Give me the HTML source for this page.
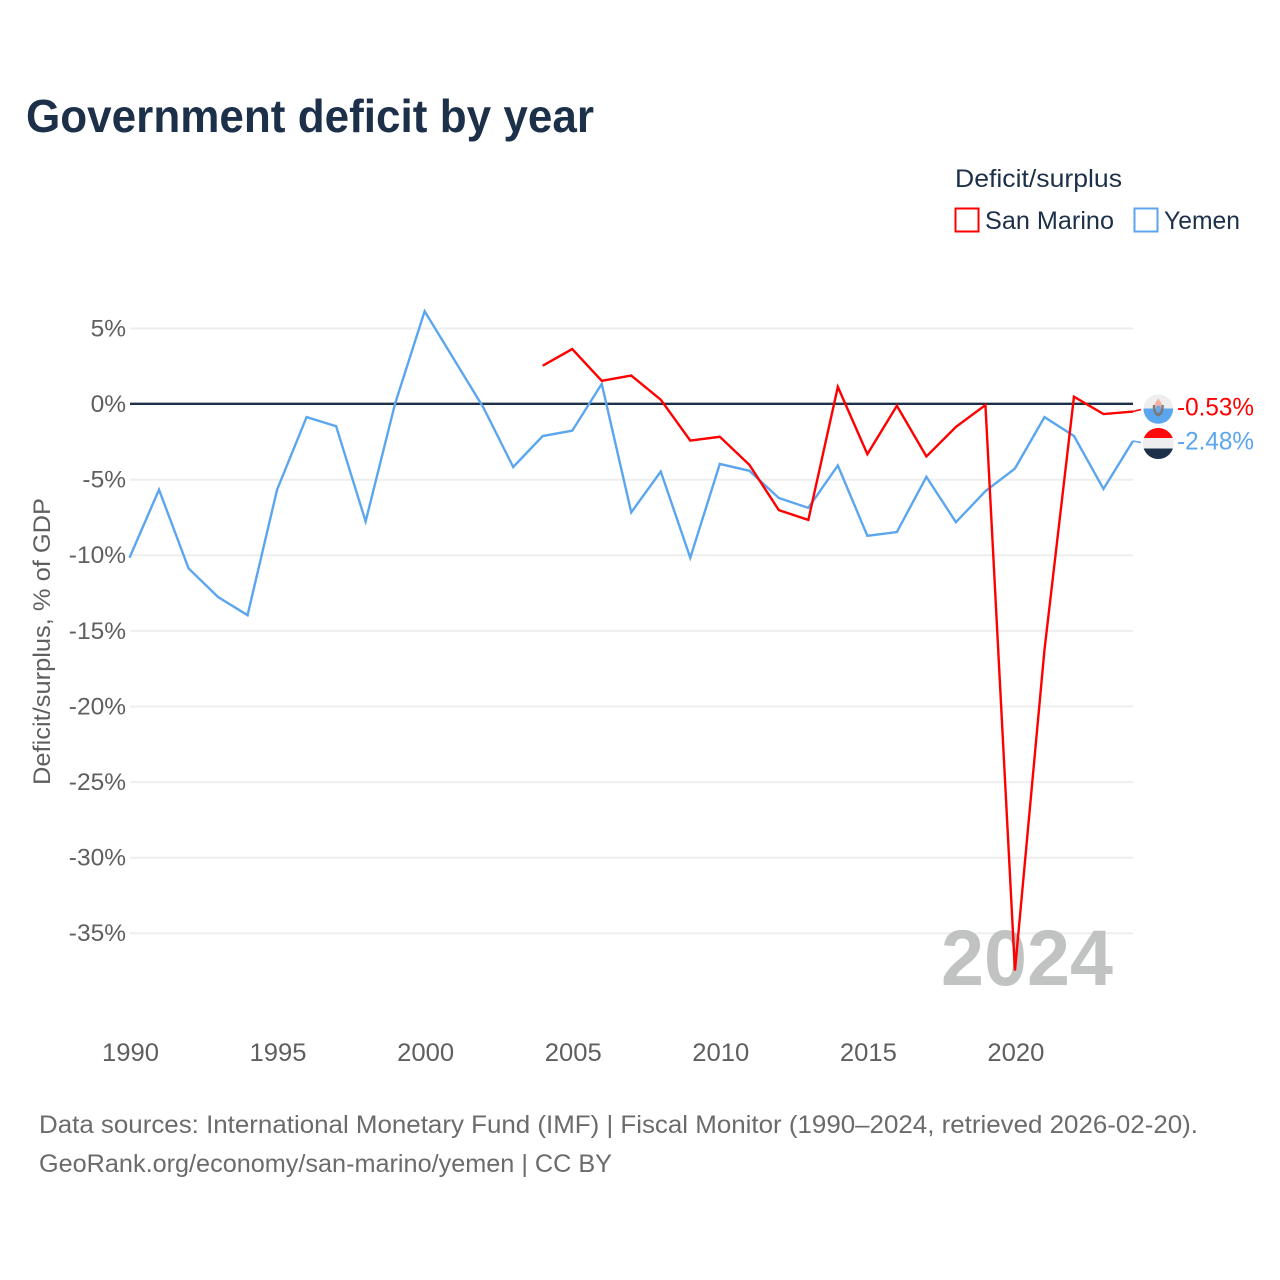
<!DOCTYPE html>
<html lang="en">
<head>
<meta charset="utf-8">
<title>Government deficit by year</title>
<style>
html,body{margin:0;padding:0;background:#fff;width:1280px;height:1280px;overflow:hidden}
svg{display:block}
text{font-family:"Liberation Sans",sans-serif}
</style>
</head>
<body>
<svg id="chart" xmlns="http://www.w3.org/2000/svg" width="1280" height="1280" viewBox="0 0 1280 1280">
  <defs>
    <clipPath id="clip-sm"><circle cx="1158.3" cy="409" r="14.8"/></clipPath>
    <clipPath id="clip-ye"><circle cx="1158.3" cy="443.5" r="15.5"/></clipPath>
  </defs>
  <text x="26" y="132" font-size="46" font-weight="700" fill="#1d3049" textLength="568" lengthAdjust="spacingAndGlyphs">Government deficit by year</text>

  <text x="955" y="187" font-size="25" fill="#1d3049" textLength="167" lengthAdjust="spacingAndGlyphs">Deficit/surplus</text>
  <rect x="955.5" y="208.5" width="23" height="23" fill="#fff" stroke="#ff0000" stroke-width="2"/>
  <text x="985" y="229" font-size="25" fill="#1d3049" textLength="129" lengthAdjust="spacingAndGlyphs">San Marino</text>
  <rect x="1134.5" y="208.5" width="23" height="23" fill="#fff" stroke="#5ba6ee" stroke-width="2"/>
  <text x="1164" y="229" font-size="25" fill="#1d3049" textLength="76" lengthAdjust="spacingAndGlyphs">Yemen</text>

  <g id="grid"></g>
  <g id="y-labels"></g>
  <g id="x-labels"></g>

  <text transform="translate(50,641.5) rotate(-90)" text-anchor="middle" font-size="24.5" fill="#5f5f5f" textLength="287" lengthAdjust="spacingAndGlyphs">Deficit/surplus, % of GDP</text>

  <text id="year-watermark" x="1113" y="985" text-anchor="end" font-size="79" font-weight="700" fill="#c1c3c3" textLength="172" lengthAdjust="spacingAndGlyphs"></text>

  <line id="zero-line" x1="130" x2="1133" stroke="#1d3049" stroke-width="2.3"/>
  <g id="series"></g>

  <g clip-path="url(#clip-sm)">
    <rect x="1143" y="393" width="31" height="16" fill="#eeeeee"/>
    <rect x="1143" y="408.5" width="31" height="17" fill="#5ba6ee"/>
    <path d="M1154.5 409 L1155 403 L1158.3 398.5 L1161.6 403 L1162 409 Z" fill="#f5b0a6"/>
    <path d="M1152.8 405 Q1152.5 415 1158.3 416.5 Q1164 415 1163.8 405 L1161.5 405 Q1161.5 412.5 1158.3 413 Q1155 412.5 1155 405 Z" fill="#7a7a7a"/>
    <ellipse cx="1158.3" cy="408.5" rx="2.8" ry="3" fill="#6fa8de"/>
  </g>
  <g clip-path="url(#clip-ye)">
    <rect x="1142" y="427" width="33" height="11" fill="#ff0a0a"/>
    <rect x="1142" y="438" width="33" height="10.5" fill="#eeeeee"/>
    <rect x="1142" y="448.5" width="33" height="11.5" fill="#1d3049"/>
  </g>
  <g id="end-labels"></g>

  <text x="39" y="1133" font-size="25" fill="#6b6b6b" textLength="1159" lengthAdjust="spacingAndGlyphs">Data sources: International Monetary Fund (IMF) | Fiscal Monitor (1990–2024, retrieved 2026-02-20).</text>
  <text x="39" y="1172" font-size="25" fill="#6b6b6b" textLength="573" lengthAdjust="spacingAndGlyphs">GeoRank.org/economy/san-marino/yemen | CC BY</text>
</svg>
<script>
const years = [1990,1991,1992,1993,1994,1995,1996,1997,1998,1999,2000,2001,2002,2003,2004,2005,2006,2007,2008,2009,2010,2011,2012,2013,2014,2015,2016,2017,2018,2019,2020,2021,2022,2023,2024];
const yemenValues = [-10.2,-5.7,-10.9,-12.8,-14.0,-5.7,-0.9,-1.5,-7.8,0.0,6.1,2.9,-0.3,-4.2,-2.15,-1.8,1.3,-7.2,-4.5,-10.2,-4.0,-4.45,-6.25,-6.9,-4.1,-8.75,-8.5,-4.85,-7.85,-5.8,-4.3,-0.9,-2.15,-5.65,-2.48];
const sanMarinoValues = [null,null,null,null,null,null,null,null,null,null,null,null,null,null,2.5,3.6,1.5,1.85,0.25,-2.45,-2.2,-4.05,-7.05,-7.7,1.1,-3.35,-0.15,-3.5,-1.55,-0.1,-37.5,-16.3,0.45,-0.7,-0.53];
const yTicks = [5,0,-5,-10,-15,-20,-25,-30,-35];
const xTicks = [1990,1995,2000,2005,2010,2015,2020];
const currentYear = 2024;

const NS = 'http://www.w3.org/2000/svg';
const plotLeft = 129.5, plotRight = 1133;
const gridOffset = 0.6;
function xScale(year){ return plotLeft + (year - 1990) * (plotRight - plotLeft) / 34; }
function yScale(v){ return 403.5 - v * 15.12; }
function make(tag, parent){ const n = document.createElementNS(NS, tag); parent.appendChild(n); return n; }

const gridG = document.getElementById('grid');
const yLabelG = document.getElementById('y-labels');
yTicks.forEach(function(t){
  if (t !== 0) {
    const gl = make('line', gridG);
    
    
    gl.setAttribute('x1', 130);
    gl.setAttribute('x2', plotRight);
    gl.setAttribute('y1', yScale(t) + gridOffset);
    gl.setAttribute('y2', yScale(t) + gridOffset);
    gl.setAttribute('stroke', '#eeeeee');
    gl.setAttribute('stroke-width', '2');
  }
  const lb = make('text', yLabelG);
  
  
  lb.setAttribute('x', 126);
  lb.setAttribute('y', yScale(t) + 8.5);
  lb.setAttribute('text-anchor', 'end');
  lb.setAttribute('font-size', '24.5');
  lb.setAttribute('fill', '#5f5f5f');
  lb.textContent = t + '%';
});

const xLabelG = document.getElementById('x-labels');
xTicks.forEach(function(t){
  const lb = make('text', xLabelG);
  
  
  lb.setAttribute('x', xScale(t) + 1);
  lb.setAttribute('y', 1061);
  lb.setAttribute('text-anchor', 'middle');
  lb.setAttribute('font-size', '25');
  lb.setAttribute('fill', '#5f5f5f');
  lb.setAttribute('textLength', '57');
  lb.setAttribute('lengthAdjust', 'spacingAndGlyphs');
  lb.textContent = t;
});

const zero = document.getElementById('zero-line');
zero.setAttribute('y1', yScale(0) + 0.3);
zero.setAttribute('y2', yScale(0) + 0.3);
document.getElementById('year-watermark').textContent = currentYear;

function linePath(values){
  let d = '';
  values.forEach(function(v, i){
    if (v === null) return;
    d += (d ? 'L' : 'M') + xScale(years[i]).toFixed(2) + ' ' + yScale(v).toFixed(2);
  });
  return d;
}
const seriesG = document.getElementById('series');
const yemenLine = make('path', seriesG);


yemenLine.setAttribute('d', linePath(yemenValues));
yemenLine.setAttribute('fill', 'none');
yemenLine.setAttribute('stroke', '#5ba6ee');
yemenLine.setAttribute('stroke-width', '2.4');
const marinoLine = make('path', seriesG);


marinoLine.setAttribute('d', linePath(sanMarinoValues));
marinoLine.setAttribute('fill', 'none');
marinoLine.setAttribute('stroke', '#ff0000');
marinoLine.setAttribute('stroke-width', '2.4');

const endG = document.getElementById('end-labels');
const marinoLast = sanMarinoValues[sanMarinoValues.length - 1];
const yemenLast = yemenValues[yemenValues.length - 1];
const marinoConn = make('path', endG);


marinoConn.setAttribute('d', 'M' + plotRight + ' ' + yScale(marinoLast) + 'L1141 409.5');
marinoConn.setAttribute('fill', 'none');
marinoConn.setAttribute('stroke', '#ff0000');
marinoConn.setAttribute('stroke-width', '1.5');
const yemenConn = make('path', endG);


yemenConn.setAttribute('d', 'M' + plotRight + ' ' + yScale(yemenLast) + 'L1141 442.5');
yemenConn.setAttribute('fill', 'none');
yemenConn.setAttribute('stroke', '#5ba6ee');
yemenConn.setAttribute('stroke-width', '1.5');
const marinoLabel = make('text', endG);


marinoLabel.setAttribute('x', 1177);
marinoLabel.setAttribute('y', 415.5);
marinoLabel.setAttribute('font-size', '25');
marinoLabel.setAttribute('fill', '#ff0000');
marinoLabel.setAttribute('textLength', '77');
marinoLabel.setAttribute('lengthAdjust', 'spacingAndGlyphs');
marinoLabel.textContent = marinoLast.toFixed(2) + '%';
const yemenLabel = make('text', endG);


yemenLabel.setAttribute('x', 1177);
yemenLabel.setAttribute('y', 449.5);
yemenLabel.setAttribute('font-size', '25');
yemenLabel.setAttribute('fill', '#5ba6ee');
yemenLabel.setAttribute('textLength', '77');
yemenLabel.setAttribute('lengthAdjust', 'spacingAndGlyphs');
yemenLabel.textContent = yemenLast.toFixed(2) + '%';
</script>
</body>
</html>
